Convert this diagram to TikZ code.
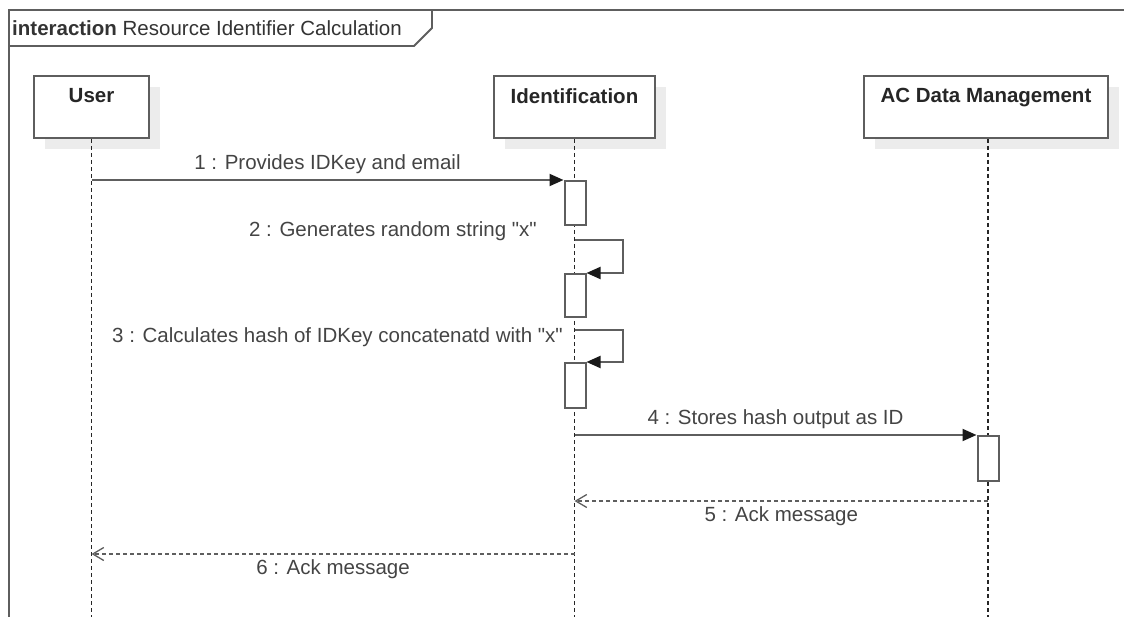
\documentclass[tikz,border=0pt]{standalone}
\usepackage{fontspec}
\setmainfont{Liberation Sans}[Ligatures=TeXOff]
\usetikzlibrary{arrows.meta,shadows}

\definecolor{linegray}{HTML}{5E5E5E}
\definecolor{textgray}{HTML}{444444}
\definecolor{shadegray}{HTML}{ECECEC}

\tikzset{
  frame/.style={draw=linegray,line width=1.8pt},
  lifebox/.style={draw=linegray,line width=2pt,fill=white,anchor=north,
    minimum width=#1,minimum height=62pt,inner sep=0pt,
    drop shadow={shadow xshift=11pt,shadow yshift=-11pt,fill=shadegray,opacity=1}},
  boxtitle/.style={font=\fontsize{20.5}{24}\selectfont\bfseries,text=black!85},
  lifeline/.style={draw=black!85,line width=1.5pt,dash pattern=on 4pt off 3pt},
  actbox/.style={draw=linegray,line width=2pt,fill=white,anchor=north,
    minimum width=21pt,minimum height=#1,inner sep=0pt},
  msg/.style={draw=linegray,line width=2pt,
    -{Triangle[length=14pt,width=12pt,color=black!90]}},
  ret/.style={draw=linegray,line width=1.6pt,dash pattern=on 4pt off 3pt,
    -{Straight Barb[length=11pt,width=13pt,line width=1.3pt]}},
  lbl/.style={font=\fontsize{20.5}{24}\selectfont,text=textgray,inner sep=2pt}
}

\begin{document}
\begin{tikzpicture}[x=1pt,y=-1pt]
  \useasboundingbox (0,0) rectangle (1124,617);
  \coordinate (bot) at (0,617);

  % frame with its name tag
  \draw[frame] (1124,10) -| (9,617);
  \draw[frame] (9,46) -- (414,46) -- (432,28) -- (432,10);
  \node[lbl,anchor=west,text=black!80] (title) at (10,28)
    {\textbf{interaction} Resource Identifier Calculation};

  % participants
  \node[lifebox=115pt,label={[boxtitle,anchor=north,yshift=-10pt]north:User}]
    (user) at (91.5,75) {};
  \node[lifebox=161pt,label={[boxtitle,anchor=north,yshift=-10pt]north:Identification}]
    (ident) at (574.5,75) {};
  \node[lifebox=244pt,label={[boxtitle,anchor=north,yshift=-10pt]north:AC Data Management}]
    (acdm) at (986,75) {};

  \draw[lifeline] (user.south) -- (user.south |- bot);
  \draw[lifeline] (ident.south) -- (ident.south |- bot);
  \draw[lifeline] ([xshift=2pt]acdm.south) -- ([xshift=2pt]acdm.south |- bot);

  % activations
  \node[actbox=44pt] (act1) at (575,180) {};
  \node[actbox=43pt] (act2) at (575,273) {};
  \node[actbox=45pt] (act3) at (575,362) {};
  \node[actbox=45pt] (act4) at (988,435) {};

  % messages
  \draw[msg] (act1.north west -| user.south) -- (act1.north west)
    node[lbl,midway,above=3pt] {1 : Provides IDKey and email};
  \draw[msg] ([yshift=33pt]act2.north) -- ++(48,0) |- (act2.north east);
  \node[lbl,anchor=east] (m2) at ([xshift=-36pt,yshift=9pt]act2.north |- 0,240)
    {2 : Generates random string "x"};
  \draw[msg] ([yshift=32pt]act3.north) -- ++(48,0) |- (act3.north east);
  \node[lbl,anchor=east] (m3) at ([xshift=-10pt]act3.north |- 0,337)
    {3 : Calculates hash of IDKey concatenatd with "x"};
  \draw[msg] (act4.north west -| ident.south) -- (act4.north west)
    node[lbl,midway,above=3pt] {4 : Stores hash output as ID};
  \draw[ret] ([yshift=-19pt]act4.south) -- ([yshift=-19pt]act4.south -| ident.south)
    node[lbl,midway,below=3pt] {5 : Ack message};
  \draw[ret] ([yshift=-72pt]act4.south -| ident.south) -- ([yshift=-72pt]act4.south -| user.south)
    node[lbl,midway,below=3pt] {6 : Ack message};
\end{tikzpicture}
\end{document}
